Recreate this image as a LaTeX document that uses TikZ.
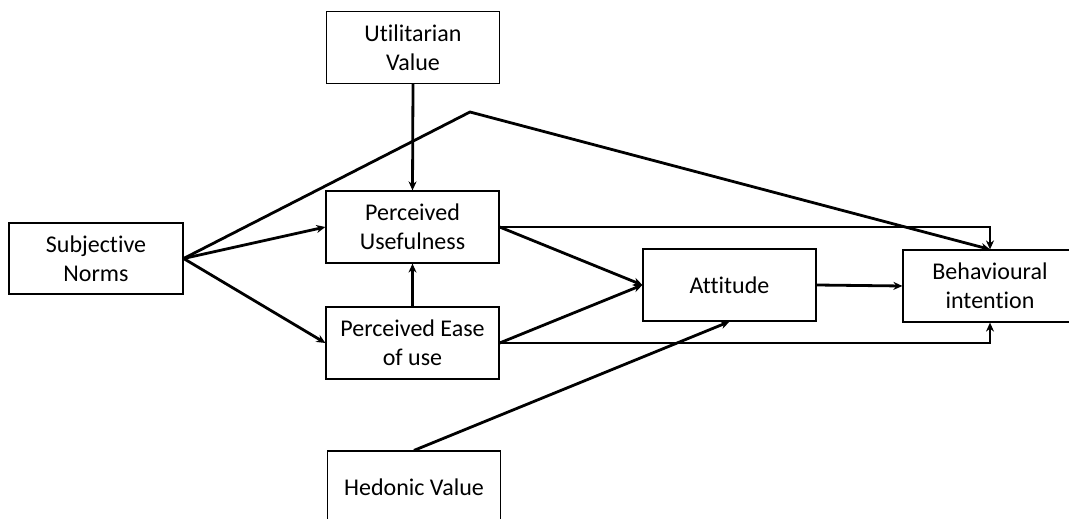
\documentclass[tikz,border=0pt]{standalone}
\usepackage{fontspec}
\setmainfont[Ligatures=NoCommon]{Carlito}
\usetikzlibrary{arrows.meta,calc}
\begin{document}
\begin{tikzpicture}[x=1pt,y=-1pt,
  box/.style={draw=black,line width=1.2pt,fill=white,minimum width=173pt,minimum height=72pt,
    inner sep=0pt,align=center,font=\fontsize{24}{29}\selectfont},
  conn/.style={line width=2.8pt,-{Stealth[length=9pt,width=8pt]}}]
\useasboundingbox (0,0) rectangle (1069,519);
\clip (0,0) rectangle (1069,519);
\node[box] (UV) at (413,47.5) {Utilitarian\\Value};
\node[box] (PU) at (412.5,227) {Perceived\\Usefulness};
\node[box,minimum width=174pt,minimum height=71pt] (SN) at (96,258.5) {Subjective\\Norms};
\node[box] (PEU) at (412.5,343) {Perceived Ease\\of use};
\node[box] (HV) at (414,487) {Hedonic Value};
\node[box] (ATT) at (729.5,285) {Attitude};
\node[box,minimum width=174pt] (BI) at (990,286) {Behavioural\\intention};
\coordinate (peak) at (470,112);
\draw[conn] (UV.south) -- (PU.north);
\draw[conn] (PEU.north) -- (PU.south);
\draw[conn] (SN.east) -- (PU.west);
\draw[conn] (SN.east) -- (PEU.west);
\draw[conn] (SN.east) -- (peak) -- (BI.north);
\draw[conn] (PU.east) -| (BI.north);
\draw[conn] (PU.east) -- (ATT.west);
\draw[conn] (PEU.east) -- (ATT.west);
\draw[conn] (PEU.east) -| (BI.south);
\draw[conn] (HV.north) -- (ATT.south);
\draw[conn] (ATT.east) -- (BI.west);
\end{tikzpicture}
\end{document}
